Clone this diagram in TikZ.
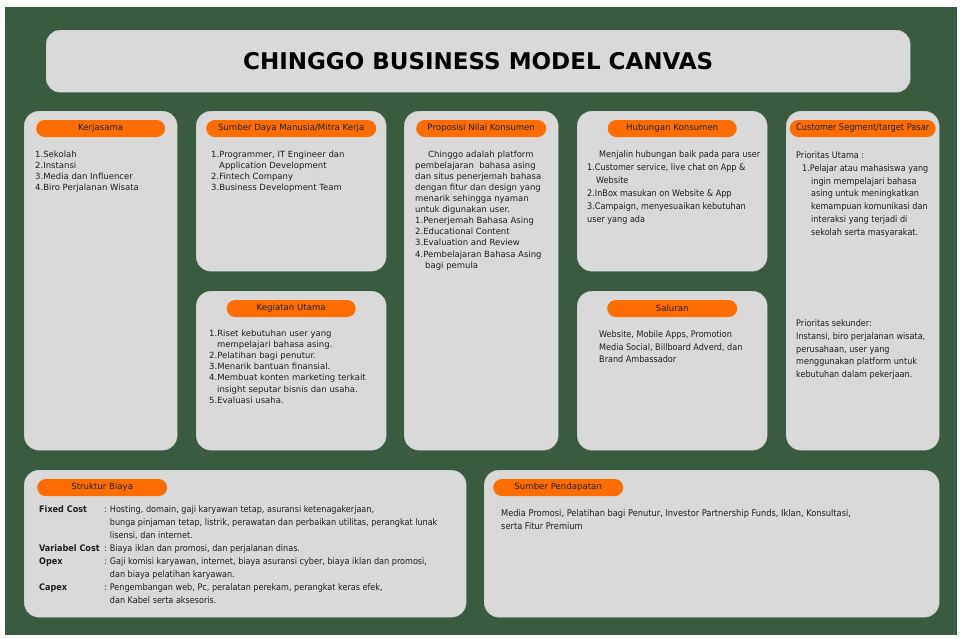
\documentclass[tikz,border=0pt]{standalone}
\usepackage{fontspec}
\setmainfont{DejaVu Sans}
\newfontfamily\condfont{DejaVu Sans Condensed}
\usetikzlibrary{positioning}
\definecolor{bggreen}{HTML}{3B5B40}
\definecolor{boxgray}{HTML}{D9D9D9}
\definecolor{pillorange}{HTML}{FF6D00}
\definecolor{inktext}{HTML}{1E1E1E}
\tikzstyle{canvasbox} = [draw=black!22, line width=0.4pt, fill=boxgray, rounded corners=15pt, anchor=north west, inner sep=0pt]
\tikzstyle{pill} = [fill=pillorange, rounded corners=8.5pt, minimum height=17pt, inner sep=0pt, text=inktext, font=\fontsize{8.6}{10}\selectfont]
\tikzstyle{body} = [anchor=north west, align=left, inner sep=0pt, text=inktext, font=\fontsize{8.5}{11.1}\selectfont]
\tikzstyle{bodyc} = [anchor=north west, align=left, inner sep=0pt, text=inktext, font=\condfont\fontsize{9}{12.8}\selectfont]

\begin{document}
\begin{tikzpicture}[x=1pt,y=-1pt]
\useasboundingbox (0,0) rectangle (965,638);
\fill[white] (0,0) rectangle (965,638);
\fill[bggreen] (5,7) rectangle (957,635);

% title
\node[canvasbox, rounded corners=14pt, minimum width=864pt, minimum height=62pt, font=\fontsize{23}{27}\selectfont\bfseries] (title) at (46,30) {CHINGGO BUSINESS MODEL CANVAS};

% blocks
\node[canvasbox, minimum width=153pt, minimum height=339pt] (kerjasama) at (24,111) {};
\node[canvasbox, minimum width=190pt, minimum height=160pt] (sumberdaya) at (196,111) {};
\node[canvasbox, minimum width=190pt, minimum height=159pt] (kegiatan) at (196,291) {};
\node[canvasbox, minimum width=154pt, minimum height=339pt] (proposisi) at (404,111) {};
\node[canvasbox, minimum width=190pt, minimum height=160pt] (hubungan) at (577,111) {};
\node[canvasbox, minimum width=190pt, minimum height=159pt] (saluran) at (577,291) {};
\node[canvasbox, minimum width=153pt, minimum height=339pt] (segmen) at (786,111) {};
\node[canvasbox, minimum width=442pt, minimum height=147pt] (biaya) at (24,470) {};
\node[canvasbox, minimum width=455pt, minimum height=147pt] (pendapatan) at (484,470) {};

% labels
\node[pill, minimum width=129pt] (kerjasamaLabel) at ([yshift=-17.5pt]kerjasama.north) {Kerjasama};
\node[pill, minimum width=170pt] (sumberdayaLabel) at ([yshift=-17.5pt]sumberdaya.north) {Sumber Daya Manusia/Mitra Kerja};
\node[pill, minimum width=129pt] (kegiatanLabel) at ([yshift=-17.5pt]kegiatan.north) {Kegiatan Utama};
\node[pill, minimum width=130pt] (proposisiLabel) at ([yshift=-17.5pt]proposisi.north) {Proposisi Nilai Konsumen};
\node[pill, minimum width=129pt] (hubunganLabel) at ([yshift=-17.5pt]hubungan.north) {Hubungan Konsumen};
\node[pill, minimum width=130pt] (saluranLabel) at ([yshift=-17.5pt]saluran.north) {Saluran};
\node[pill, minimum width=146pt, font=\condfont\fontsize{9.2}{10}\selectfont] (segmenLabel) at ([yshift=-17.5pt]segmen.north) {Customer Segment/target Pasar};
\node[pill, minimum width=130pt, anchor=west] (biayaLabel) at ([xshift=13pt,yshift=-17.5pt]biaya.north west) {Struktur Biaya};
\node[pill, minimum width=130pt, anchor=west] (pendapatanLabel) at ([xshift=9pt,yshift=-17.5pt]pendapatan.north west) {Sumber Pendapatan};

% texts
\node[body] (kerjasamaText) at (35,150.5) {1.Sekolah\\2.Instansi\\3.Media dan Influencer\\4.Biro Perjalanan Wisata};
\node[body] (sumberdayaText) at (211,150.5) {1.Programmer, IT Engineer dan\\\hspace*{8pt}Application Development\\2.Fintech Company\\3.Business Development Team};
\node[body, font=\fontsize{8.5}{11.2}\selectfont] (kegiatanText) at (209,329.5) {1.Riset kebutuhan user yang\\\hspace*{8pt}mempelajari bahasa asing.\\2.Pelatihan bagi penutur.\\3.Menarik bantuan finansial.\\4.Membuat konten marketing terkait\\\hspace*{8pt}insight seputar bisnis dan usaha.\\5.Evaluasi usaha.};
\node[body] (proposisiText) at (415,150.5) {\hspace*{13pt}Chinggo adalah platform\\pembelajaran\ \ bahasa asing\\dan situs penerjemah bahasa\\dengan fitur dan design yang\\menarik sehingga nyaman\\untuk digunakan user.\\1.Penerjemah Bahasa Asing\\2.Educational Content\\3.Evaluation and Review\\4.Pembelajaran Bahasa Asing\\\hspace*{10pt}bagi pemula};
\node[bodyc, font=\condfont\fontsize{9}{13}\selectfont] (hubunganText) at (587,150.5) {\hspace*{12pt}Menjalin hubungan baik pada para user\\1.Customer service, live chat on App \&\\\hspace*{9pt}Website\\2.InBox masukan on Website \& App\\3.Campaign, menyesuaikan kebutuhan\\user yang ada};
\node[bodyc, font=\condfont\fontsize{9}{12.6}\selectfont] (saluranText) at (599,330.5) {Website, Mobile Apps, Promotion\\Media Social, Billboard Adverd, dan\\Brand Ambassador};
\node[bodyc] (segmenText) at (796,151.5) {Prioritas Utama :\\\hspace*{6pt}1.Pelajar atau mahasiswa yang\\\hspace*{15pt}ingin mempelajari bahasa\\\hspace*{15pt}asing untuk meningkatkan\\\hspace*{15pt}kemampuan komunikasi dan\\\hspace*{15pt}interaksi yang terjadi di\\\hspace*{15pt}sekolah serta masyarakat.};
\node[bodyc] (segmenText2) at (796,319.5) {Prioritas sekunder:\\Instansi, biro perjalanan wisata,\\perusahaan, user yang\\menggunakan platform untuk\\kebutuhan dalam pekerjaan.};
\node[bodyc, font=\condfont\fontsize{9}{13}\selectfont] (biayaText) at (39,503) {%
\begin{tabular}{@{}p{65pt}@{}l@{\hspace{3pt}}l@{}}
\textbf{Fixed Cost} & : & Hosting, domain, gaji karyawan tetap, asuransi ketenagakerjaan,\\
 & & bunga pinjaman tetap, listrik, perawatan dan perbaikan utilitas, perangkat lunak\\
 & & lisensi, dan internet.\\
\textbf{Variabel Cost} & : & Biaya iklan dan promosi, dan perjalanan dinas.\\
\textbf{Opex} & : & Gaji komisi karyawan, internet, biaya asuransi cyber, biaya iklan dan promosi,\\
 & & dan biaya pelatihan karyawan.\\
\textbf{Capex} & : & Pengembangan web, Pc, peralatan perekam, perangkat keras efek,\\
 & & dan Kabel serta aksesoris.
\end{tabular}};
\node[bodyc, font=\condfont\fontsize{9.2}{13}\selectfont] (pendapatanText) at (501,509.5) {Media Promosi, Pelatihan bagi Penutur, Investor Partnership Funds, Iklan, Konsultasi,\\serta Fitur Premium};

\end{tikzpicture}
\end{document}
